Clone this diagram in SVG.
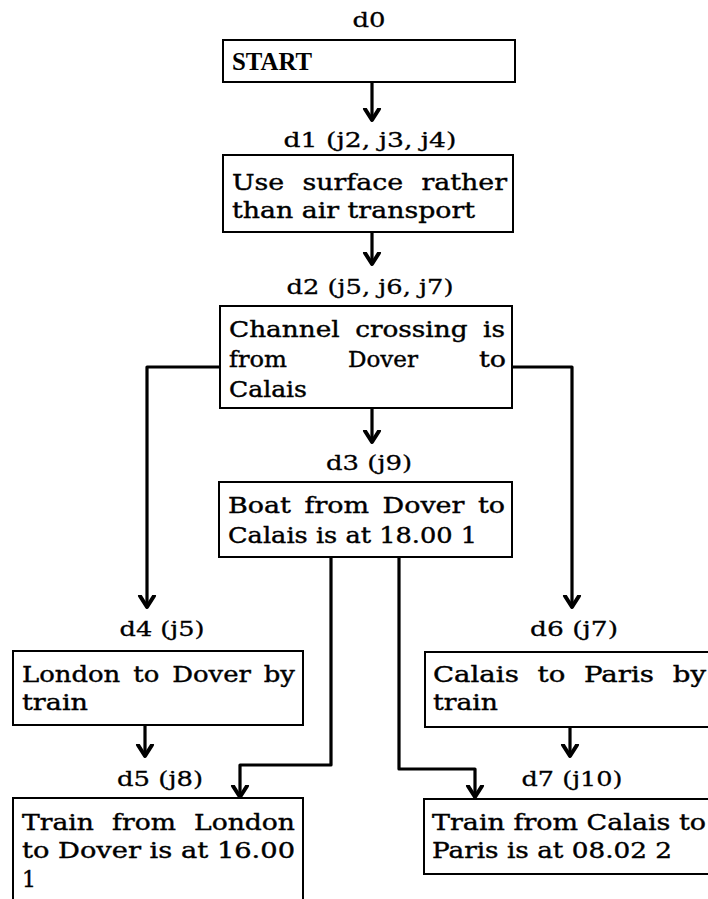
<svg xmlns="http://www.w3.org/2000/svg" width="708" height="899" viewBox="0 0 708 899">
<style>
  .box{fill:#fff;stroke:#000;stroke-width:2}
  .t{font-family:"DejaVu Serif","Liberation Serif",serif;font-size:22px;fill:#000;stroke:#000;stroke-width:0.4}
  .lbl{font-family:"DejaVu Serif","Liberation Serif",serif;font-size:21px;fill:#000;stroke:#000;stroke-width:0.3;text-anchor:middle}
  .st{font-family:"Liberation Serif","DejaVu Serif",serif;font-size:25px;font-weight:bold;fill:#000}
  .c{fill:none;stroke:#000;stroke-width:3.2;stroke-linejoin:round}
</style>
<defs>
  <marker id="ah" markerUnits="userSpaceOnUse" markerWidth="24" markerHeight="24" viewBox="-12 -12 24 24" refX="0" refY="0" orient="auto">
    <path d="M-11,-7 L0,0 L-11,7" fill="none" stroke="#000" stroke-width="4" stroke-linecap="round" stroke-linejoin="round"/>
  </marker>
</defs>
<rect width="708" height="899" fill="#fff"/>

<g id="connectors">
  <path class="c" d="M372,82 L372,120" marker-end="url(#ah)"/>
  <path class="c" d="M372,232 L372,264" marker-end="url(#ah)"/>
  <path class="c" d="M372,408 L372,442" marker-end="url(#ah)"/>
  <path class="c" d="M220,367 L147,367 L147,607" marker-end="url(#ah)"/>
  <path class="c" d="M512,367 L572,367 L572,607" marker-end="url(#ah)"/>
  <path class="c" d="M331,557 L331,765 L240,765 L240,797" marker-end="url(#ah)"/>
  <path class="c" d="M399,557 L399,769 L475,769 L475,797" marker-end="url(#ah)"/>
  <path class="c" d="M145,725 L145,756" marker-end="url(#ah)"/>
  <path class="c" d="M570,727 L570,756" marker-end="url(#ah)"/>
</g>

<g id="d0">
  <text class="lbl" x="369" y="27" textLength="33" lengthAdjust="spacingAndGlyphs">d0</text>
  <rect class="box" x="223" y="40" width="292" height="42"/>
  <text class="st" x="232" y="70" textLength="80" lengthAdjust="spacingAndGlyphs">START</text>
</g>

<g id="d1">
  <text class="lbl" x="370" y="147" textLength="173" lengthAdjust="spacingAndGlyphs">d1 (j2, j3, j4)</text>
  <rect class="box" x="223" y="155" width="290" height="77"/>
  <text class="t" x="232" y="190" textLength="275" lengthAdjust="spacingAndGlyphs" word-spacing="8">Use surface rather</text>
  <text class="t" x="232" y="218" textLength="243" lengthAdjust="spacingAndGlyphs">than air transport</text>
</g>

<g id="d2">
  <text class="lbl" x="370" y="294" textLength="167" lengthAdjust="spacingAndGlyphs">d2 (j5, j6, j7)</text>
  <rect class="box" x="220" y="306" width="292" height="102"/>
  <text class="t" x="229" y="337" textLength="276" lengthAdjust="spacingAndGlyphs" word-spacing="6">Channel crossing is</text>
  <text class="t" x="229" y="367" textLength="58" lengthAdjust="spacingAndGlyphs">from</text>
  <text class="t" x="348" y="367" textLength="70" lengthAdjust="spacingAndGlyphs">Dover</text>
  <text class="t" x="479" y="367" textLength="27" lengthAdjust="spacingAndGlyphs">to</text>
  <text class="t" x="229" y="397" textLength="78" lengthAdjust="spacingAndGlyphs">Calais</text>
</g>

<g id="d3">
  <text class="lbl" x="369" y="470" textLength="86" lengthAdjust="spacingAndGlyphs">d3 (j9)</text>
  <rect class="box" x="219" y="482" width="293" height="75"/>
  <text class="t" x="228" y="513" textLength="277" lengthAdjust="spacingAndGlyphs" word-spacing="4">Boat from Dover to</text>
  <text class="t" x="228" y="543" textLength="249" lengthAdjust="spacingAndGlyphs">Calais is at 18.00 1</text>
</g>

<g id="d4">
  <text class="lbl" x="162" y="636" textLength="85" lengthAdjust="spacingAndGlyphs">d4 (j5)</text>
  <rect class="box" x="13" y="651" width="290" height="74"/>
  <text class="t" x="22" y="682" textLength="273" lengthAdjust="spacingAndGlyphs" word-spacing="4">London to Dover by</text>
  <text class="t" x="22" y="710" textLength="66" lengthAdjust="spacingAndGlyphs">train</text>
</g>

<g id="d5">
  <text class="lbl" x="160" y="786" textLength="86" lengthAdjust="spacingAndGlyphs">d5 (j8)</text>
  <rect class="box" x="13" y="798" width="290" height="110"/>
  <text class="t" x="22" y="830" textLength="273" lengthAdjust="spacingAndGlyphs" word-spacing="8">Train from London</text>
  <text class="t" x="22" y="858" textLength="273" lengthAdjust="spacingAndGlyphs">to Dover is at 16.00</text>
  <text class="t" x="22" y="887">1</text>
</g>

<g id="d6">
  <text class="lbl" x="574" y="636" textLength="88" lengthAdjust="spacingAndGlyphs">d6 (j7)</text>
  <rect class="box" x="425" y="652" width="300" height="75"/>
  <text class="t" x="433" y="682" textLength="273" lengthAdjust="spacingAndGlyphs" word-spacing="8">Calais to Paris by</text>
  <text class="t" x="433" y="710" textLength="65" lengthAdjust="spacingAndGlyphs">train</text>
</g>

<g id="d7">
  <text class="lbl" x="572" y="786" textLength="101" lengthAdjust="spacingAndGlyphs">d7 (j10)</text>
  <rect class="box" x="424" y="799" width="300" height="75"/>
  <text class="t" x="432" y="830" textLength="274" lengthAdjust="spacingAndGlyphs">Train from Calais to</text>
  <text class="t" x="432" y="858" textLength="240" lengthAdjust="spacingAndGlyphs">Paris is at 08.02 2</text>
</g>
</svg>
